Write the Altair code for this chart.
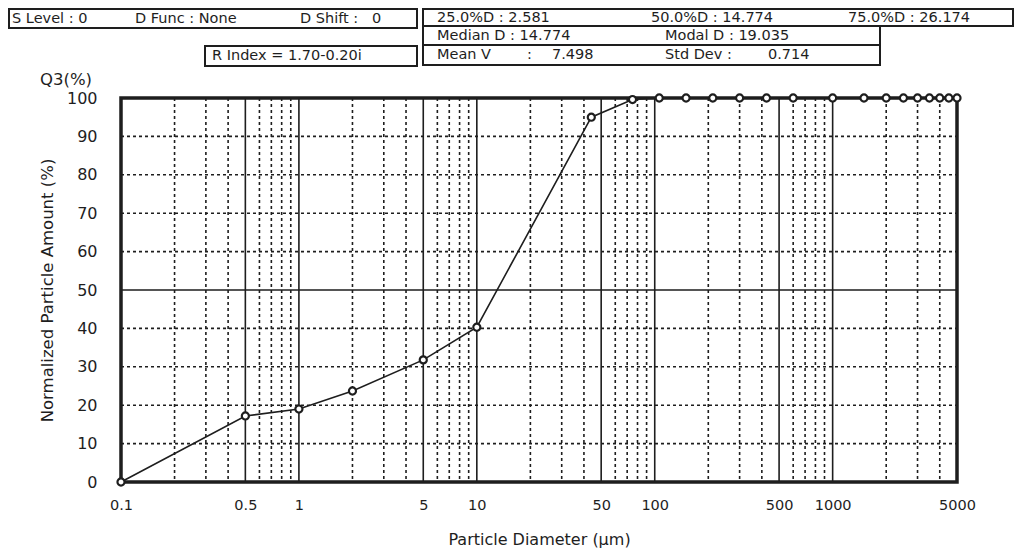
import altair as alt
import pandas as pd

# ---------------- data ----------------
DIAMETER = [0.1, 0.5, 1, 2, 5, 10, 44, 75, 106, 150, 212, 300, 425, 600,
            1000, 1500, 2000, 2500, 3000, 3500, 4000, 4500, 5000]
Q3 = [0, 17.2, 19.0, 23.7, 31.8, 40.3, 95.0, 99.6, 100, 100, 100, 100, 100, 100,
      100, 100, 100, 100, 100, 100, 100, 100, 100]

X_TICKS = [0.1, 0.5, 1, 5, 10, 50, 100, 500, 1000, 5000]
Y_TICKS = [0, 10, 20, 30, 40, 50, 60, 70, 80, 90, 100]
X_MAJOR_GRID = [0.5, 1, 5, 10, 50, 100, 500, 1000]
X_MINOR_GRID = [0.2, 0.3, 0.4, 0.6, 0.7, 0.8, 0.9,
                2, 3, 4, 6, 7, 8, 9,
                20, 30, 40, 60, 70, 80, 90,
                200, 300, 400, 600, 700, 800, 900,
                2000, 3000, 4000]
Y_MAJOR_GRID = [50]
Y_MINOR_GRID = [10, 20, 30, 40, 60, 70, 80, 90]

ROW1 = ["25.0%D : 2.581", "50.0%D : 14.774", "75.0%D : 26.174"]
ROW2 = ["Median D : 14.774", "Modal D : 19.035"]
ROW3 = [("Mean V", ":", "7.498"), ("Std Dev :", "0.714")]
SETTINGS = ["S Level : 0", "D Func : None", "D Shift :", "0"]
R_INDEX = "R Index = 1.70-0.20i"

# ---------------- layout ----------------
FONT = "DejaVu Sans"
INK = "#1e1e1e"
OX, OY = 121, 98          # plot origin on the page
W, H = 836, 384

xs = alt.Scale(type="log", domain=[0.1, 5000], nice=False)
ys = alt.Scale(domain=[0, 100], nice=False)

AX_X = alt.Axis(values=X_TICKS, title="Particle Diameter (µm)",
                grid=False, ticks=False, domain=False,
                labelFont=FONT, labelFontSize=14.5, labelColor=INK,
                labelPadding=16, labelFlush=False,
                labelExpr="datum.value < 1 ? format(datum.value, '.1f') : format(datum.value, 'd')",
                titleFont=FONT, titleFontSize=16, titleFontWeight="normal",
                titleColor=INK, titlePadding=20)
AX_Y = alt.Axis(values=Y_TICKS, title="Normalized Particle Amount (%)",
                grid=False, ticks=False, domain=False,
                labelFont=FONT, labelFontSize=16, labelColor=INK,
                labelPadding=24, labelFlush=False,
                titleFont=FONT, titleFontSize=16.5, titleFontWeight="normal",
                titleColor=INK, titlePadding=11)

df = pd.DataFrame({"d": DIAMETER, "q": Q3})
base = alt.Chart(df)

def vgrid(vals, dash, sw):
    return alt.Chart(pd.DataFrame({"v": vals})).mark_rule(
        color=INK, strokeWidth=sw, strokeDash=dash
    ).encode(x=alt.X("v:Q", scale=xs, axis=AX_X), y=alt.value(0), y2=alt.value(H))

def hgrid(vals, dash, sw):
    return alt.Chart(pd.DataFrame({"v": vals})).mark_rule(
        color=INK, strokeWidth=sw, strokeDash=dash
    ).encode(y=alt.Y("v:Q", scale=ys, axis=AX_Y), x=alt.value(0), x2=alt.value(W))

def box(x1, y1, x2, y2, sw=2):
    return alt.Chart(alt.Data(values=[{}])).mark_rect(
        fill="white", fillOpacity=0, stroke=INK, strokeWidth=sw
    ).encode(x=alt.value(x1 - OX), x2=alt.value(x2 - OX),
             y=alt.value(y1 - OY), y2=alt.value(y2 - OY))

def label(text, x, y, size=14.5, align="left"):
    return alt.Chart(alt.Data(values=[{}])).mark_text(
        font=FONT, fontSize=size, color=INK, align=align, baseline="middle"
    ).encode(x=alt.value(x - OX), y=alt.value(y - OY), text=alt.value(text))

line = base.mark_line(color=INK, strokeWidth=1.6).encode(
    x=alt.X("d:Q", scale=xs, axis=AX_X),
    y=alt.Y("q:Q", scale=ys, axis=AX_Y),
)

points = base.mark_point(shape="circle", filled=True, fill="white", stroke=INK,
                         strokeWidth=2.2, size=50, opacity=1).encode(
    x=alt.X("d:Q", scale=xs, axis=AX_X), y=alt.Y("q:Q", scale=ys, axis=AX_Y))

frame = alt.Chart(alt.Data(values=[{}])).mark_rect(
    fill="white", fillOpacity=0, stroke=INK, strokeWidth=3.5
).encode(x=alt.value(0), x2=alt.value(W), y=alt.value(0), y2=alt.value(H))

layers = [
    vgrid(X_MINOR_GRID, [3, 3], 1.6),
    hgrid(Y_MINOR_GRID, [3, 3], 1.6),
    vgrid(X_MAJOR_GRID, [1, 0], 1.6),
    hgrid(Y_MAJOR_GRID, [1, 0], 1.6),
    frame,
    line,
    points,
    # header boxes
    box(9, 9, 417, 28),
    box(423, 9, 1013, 26),
    box(423, 26, 880, 45),
    box(423, 45, 880, 65),
    box(205, 46, 417, 66),
    # settings box
    label(SETTINGS[0], 12, 18.5),
    label(SETTINGS[1], 135, 18.5),
    label(SETTINGS[2], 300, 18.5),
    label(SETTINGS[3], 372, 18.5),
    # statistics rows
    label(ROW1[0], 437, 17.5),
    label(ROW1[1], 651, 17.5),
    label(ROW1[2], 848, 17.5),
    label(ROW2[0], 437, 35.5),
    label(ROW2[1], 665, 35.5),
    label(ROW3[0][0], 437, 55), label(ROW3[0][1], 527, 55), label(ROW3[0][2], 552, 55),
    label(ROW3[1][0], 665, 55), label(ROW3[1][1], 768, 55),
    label(R_INDEX, 212, 56),
    label("Q3(%)", 40, 80, size=16.5),
]

chart = alt.layer(*layers).properties(
    width=W, height=H,
    padding={"left": OX - 8, "top": OY - 8, "right": 58, "bottom": 70},
    autosize=alt.AutoSizeParams(type="none"),
    background="white",
).configure_view(stroke=None)

chart.save("out.html", embed_options={"renderer": "svg", "actions": False})
